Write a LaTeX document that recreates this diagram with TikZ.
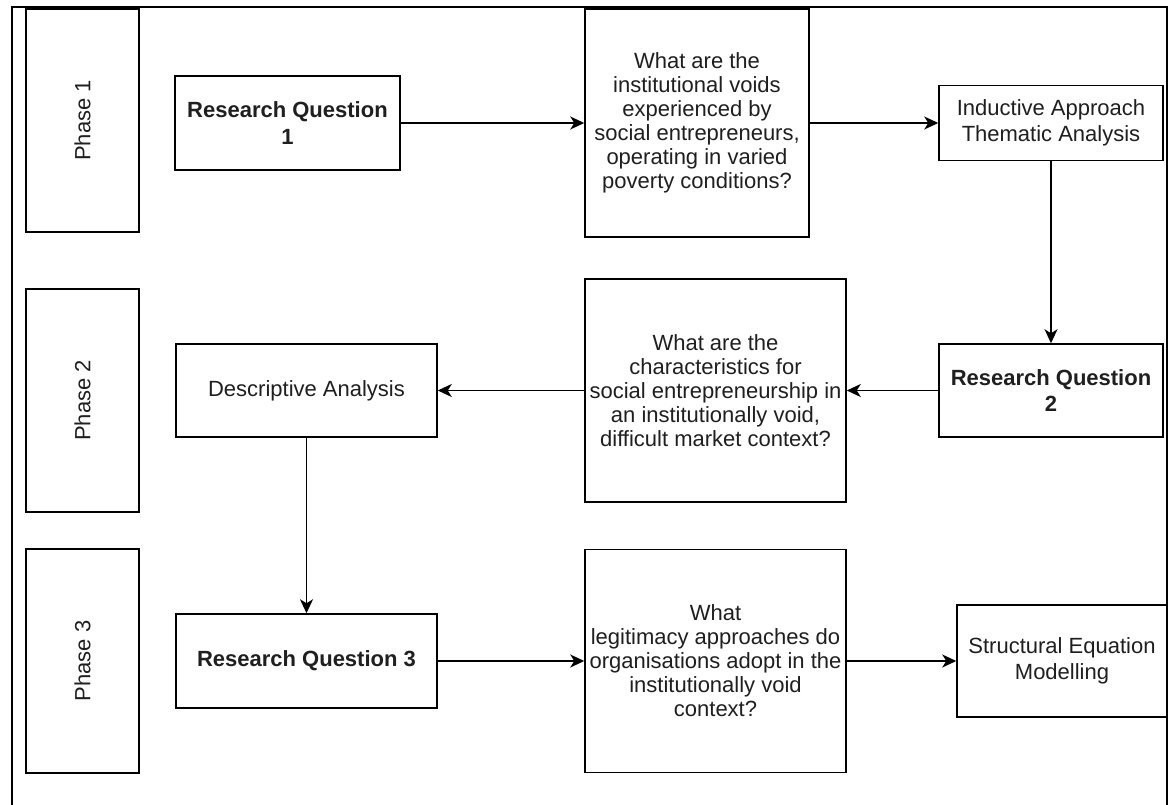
\documentclass[tikz,border=0pt]{standalone}
\usepackage{fontspec}
\setmainfont{Liberation Sans}
\usetikzlibrary{arrows.meta}
\tikzset{
  box/.style={draw=black, line width=1.5pt, fill=white, inner sep=0pt, align=center,
    font=\fontsize{22}{26.5}\selectfont, text=black!88},
  qbox/.style={box, font=\fontsize{22}{24}\selectfont},
  rqbox/.style={box, font=\fontsize{22}{26.5}\selectfont\bfseries},
  phasebox/.style={box},
  phaselabel/.style={rotate=90, font=\fontsize{22}{26.5}\selectfont, text=black!88},
  conn/.style={line width=1.6pt, -{Stealth[length=14pt, width=13pt, inset=4pt]}},
  frameline/.style={line width=1.7pt, black}
}
\begin{document}
\begin{tikzpicture}[x=1pt, y=-1pt]
\useasboundingbox (0,0) rectangle (1170,805);
\fill[white] (0,0) rectangle (1170,805);
% outer frame (open at bottom)
\coordinate (fbl) at (12,805);
\coordinate (ftl) at (12,7);
\coordinate (ftr) at (1167,7);
\coordinate (fbr) at (1167,805);
\draw[frameline] (fbl) -- (ftl) -- (ftr) -- (fbr);
% phases
\node[phasebox, minimum width=113pt, minimum height=223pt] (p1) at (82.5,120.5) {};
\node[phaselabel] (p1t) at (p1.center) {Phase 1};
\node[phasebox, minimum width=113pt, minimum height=223pt] (p2) at (82.5,400.5) {};
\node[phaselabel] (p2t) at (p2.center) {Phase 2};
\node[phasebox, minimum width=113pt, minimum height=224pt] (p3) at (82.5,661) {};
\node[phaselabel] (p3t) at (p3.center) {Phase 3};
% row 1
\node[rqbox, minimum width=225pt, minimum height=94pt] (rq1) at (287.5,123) {Research Question\\1};
\node[qbox, minimum width=224pt, minimum height=228pt] (q1) at (697,123) {What are the\\institutional voids\\experienced by\\social entrepreneurs,\\operating in varied\\poverty conditions?};
\node[box, minimum width=224pt, minimum height=75pt] (ind) at (1051,123) {Inductive Approach\\Thematic Analysis};
% row 2
\node[rqbox, minimum width=224pt, minimum height=93pt] (rq2) at (1051,390.5) {Research Question\\2};
\node[qbox, minimum width=261pt, minimum height=223pt] (q2) at (715.5,390.5) {What are the\\characteristics for\\social entrepreneurship in\\an institutionally void,\\difficult market context?};
\node[box, minimum width=261pt, minimum height=93pt] (desc) at (306.5,390.5) {Descriptive Analysis};
% row 3
\node[rqbox, minimum width=261pt, minimum height=94pt] (rq3) at (306.5,661) {Research Question 3};
\node[qbox, minimum width=261pt, minimum height=223pt] (q3) at (715.5,661) {What\\legitimacy approaches do\\organisations adopt in the\\institutionally void\\context?};
\node[box, minimum width=210pt, minimum height=112pt] (sem) at (1062,661) {Structural Equation\\Modelling};
% connectors
\draw[conn] (rq1.east) -- (q1.west);
\draw[conn] (q1.east) -- (ind.west);
\draw[conn] (ind.south) -- (rq2.north);
\draw[conn] (rq2.west) -- (q2.east);
\draw[conn] (q2.west) -- (desc.east);
\draw[conn] (desc.south) -- (rq3.north);
\draw[conn] (rq3.east) -- (q3.west);
\draw[conn] (q3.east) -- (sem.west);
\end{tikzpicture}
\end{document}
